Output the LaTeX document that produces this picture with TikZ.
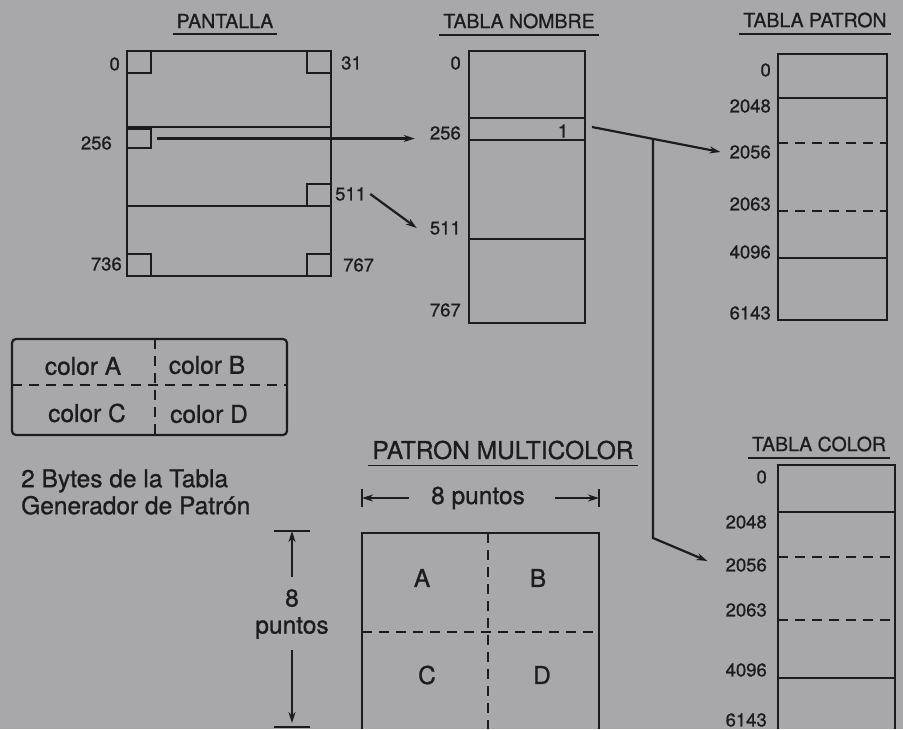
\documentclass[tikz,border=0pt]{standalone}
\usepackage{fontspec}
\setmainfont{TeX Gyre Heros}[FakeBold=0.9]
\usetikzlibrary{arrows.meta,positioning,calc}
\definecolor{scangrey}{RGB}{168,168,170}
\definecolor{inkc}{RGB}{28,28,30}

\begin{document}
\begin{tikzpicture}[x=1pt, y=-1pt,
    solidln/.style={draw=inkc, line width=2.2pt},
    dashln/.style={draw=inkc, line width=1.9pt, dash pattern=on 10pt off 7pt},
    cellbox/.style={rectangle, draw=inkc, line width=2.2pt, inner sep=0pt, outer sep=0pt,
        minimum width=24pt, minimum height=22pt},
    addr/.style={font=\fontsize{18.5}{20}\selectfont, text=inkc, inner sep=1pt},
    heading/.style={font=\fontsize{19.5}{22}\selectfont, text=inkc, inner sep=1pt},
    bigtext/.style={font=\fontsize{24.5}{27}\selectfont, text=inkc, inner sep=1pt},
    arr/.style={-{Stealth[length=11pt, width=7pt]}, line width=2.2pt, inkc}
]
    \fill[scangrey] (0,0) rectangle (903,729);
    \useasboundingbox (0,0) rectangle (903,729);

    % headings
    \node[heading] (pant) at (225,21) {PANTALLA};
    \node[heading] (nomb) at (519,21) {TABLA NOMBRE};
    \node[heading] (patr) at (815,20) {TABLA PATRON};
    \node[heading] (colr) at (819,444) {TABLA COLOR};
    \node[bigtext] (multi) at (503,450) {PATRON MULTICOLOR};
    \foreach \h in {pant,nomb,patr,colr,multi}
        \draw[solidln, line width=1.8pt] ([xshift=-3pt,yshift=-5pt]\h.south west) -- ([xshift=3pt,yshift=-5pt]\h.south east);

    % pantalla
    \draw[solidln] (127,51) rectangle (331,276);
    \draw[solidln] (127,127) -- (331,127);
    \draw[solidln] (127,206) -- (331,206);
    \node[cellbox, anchor=north west] (sq0) at (127,51) {};
    \node[cellbox, anchor=north east] (sq31) at (331,51) {};
    \node[cellbox, anchor=north west, minimum height=19pt] (sq256) at (127,129) {};
    \node[cellbox, anchor=south east] (sq511) at (331,206) {};
    \node[cellbox, anchor=south west] (sq736) at (127,276) {};
    \node[cellbox, anchor=south east] (sq767) at (331,276) {};
    \node[addr, anchor=east] (p0) at (121,64) {0};
    \node[addr, anchor=west] (p31) at (340,63) {31};
    \node[addr, anchor=east] (p256) at (113,143) {256};
    \node[addr, anchor=west] (p511) at (334,194) {511};
    \node[addr, anchor=east] (p736) at (123,264) {736};
    \node[addr, anchor=west] (p767) at (342,265) {767};

    % tabla nombre
    \draw[solidln] (469,51) rectangle (585,323);
    \draw[solidln] (469,118) -- (585,118);
    \draw[solidln] (469,140) -- (585,140);
    \draw[solidln] (469,239) -- (585,239);
    \node[addr] (one) at (563,131) {1};
    \foreach \v/\y in {0/63, 256/133, 511/228, 767/310}
        \node[addr, anchor=east] (n\v) at (462,\y) {\v};

    % tabla patron
    \draw[solidln] (778,54) rectangle (887,320);
    \draw[solidln] (778,98) -- (887,98);
    \draw[dashln] (778,143) -- (887,143);
    \draw[dashln] (778,211) -- (887,211);
    \draw[solidln] (778,258) -- (887,258);
    \foreach \v/\y in {0/70, 2048/106, 2056/152, 2063/204, 4096/252, 6143/313}
        \node[addr, anchor=east] (t\v) at (772,\y) {\v};

    % tabla color
    \draw[solidln] (778,729) |- (895,465) -- (895,729);
    \draw[solidln] (778,512) -- (895,512);
    \draw[dashln] (778,557) -- (895,557);
    \draw[dashln] (778,620) -- (895,620);
    \draw[solidln] (778,678) -- (895,678);
    \foreach \v/\y in {0/477, 2048/522, 2056/565, 2063/610, 4096/670, 6143/720}
        \node[addr, anchor=east] (c\v) at (768,\y) {\v};

    % connectors between the tables
    \coordinate (nin) at (sq256.east -| n256.west);
    \draw[arr] ([xshift=6pt]sq256.east) -- ([xshift=-14pt]nin);
    \draw[arr] ([xshift=3pt]p511.east) -- ([xshift=-12pt]n511.west);
    \coordinate (nrow) at (592,127);
    \coordinate (fork) at (653,139);
    \coordinate (bend) at (653,538);
    \draw[arr] (nrow) -- ([xshift=-8pt]t2056.west);
    \draw[arr] (fork) -- (bend) -- ([xshift=-17pt,yshift=4pt]c2056.west);

    % colour byte box
    \draw[solidln, rounded corners=4pt] (12,339) rectangle (287,435);
    \draw[dashln] (12,385) -- (287,385);
    \draw[dashln] (155,339) -- (155,435);
    \node[bigtext] (cA) at (83,366) {color A};
    \node[bigtext] (cB) at (207,365) {color B};
    \node[bigtext] (cC) at (87,413) {color C};
    \node[bigtext] (cD) at (209,414) {color D};
    \node[bigtext, anchor=west, align=left] (bytes) at (20,492) {2 Bytes de la Tabla\\Generador de Patrón};

    % patron multicolor
    \draw[solidln] (362,729) |- (599,533) -- (599,729);
    \draw[dashln] (488,533) -- (488,729);
    \draw[dashln] (362,632) -- (599,632);
    \node[bigtext] (la) at (422,578) {A};
    \node[bigtext] (lb) at (538,578) {B};
    \node[bigtext] (lc) at (427,675) {C};
    \node[bigtext] (ld) at (542,675) {D};

    \node[bigtext] (wlab) at (478,498) {8 puntos};
    \coordinate (wl) at (362,498);
    \coordinate (wr) at (599,498);
    \draw[solidln] ([yshift=9pt]wl) -- ([yshift=-9pt]wl);
    \draw[solidln] ([yshift=9pt]wr) -- ([yshift=-9pt]wr);
    \draw[arr, shorten <=21pt] (wlab.west) -- (wl);
    \draw[arr, shorten <=29pt] (wlab.east) -- (wr);

    \node[bigtext, align=center] (hlab) at (292,614) {8\\puntos};
    \coordinate (ht) at (292,531);
    \coordinate (hb) at (292,727);
    \draw[solidln] ([xshift=-18pt]ht) -- ([xshift=18pt]ht);
    \draw[solidln] ([xshift=-18pt]hb) -- ([xshift=18pt]hb);
    \draw[arr, shorten <=11pt] (hlab.north) -- (ht);
    \draw[arr, shorten <=10pt, shorten >=4pt] (hlab.south) -- (hb);
\end{tikzpicture}
\end{document}
